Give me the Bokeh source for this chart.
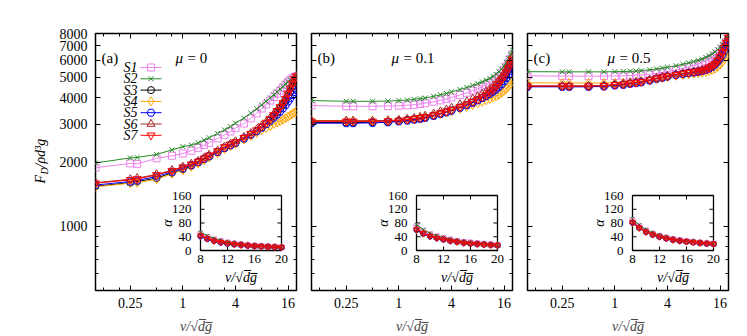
from bokeh.plotting import figure
from bokeh.layouts import row
from bokeh.models import Range1d, LinearScale, LogAxis, FixedTicker, CustomJSTickFormatter
from bokeh.core.properties import value
from bokeh.embed import file_html
from bokeh.resources import INLINE
import math

# ---------------- data ----------------
V = [0.1, 0.25, 0.3, 0.5, 0.75, 1, 1.25, 1.5, 1.75, 2, 2.5, 3, 3.5, 4, 5, 6, 7, 8, 9, 10,
     11, 12, 13, 14, 15, 16, 17, 18, 19, 20]
V_INSET = [8, 9, 10, 11, 12, 13, 14, 15, 16, 17, 18, 19, 20]

SERIES = ["S1", "S2", "S3", "S4", "S5", "S6", "S7"]
TAGS = ["(a)", "(b)", "(c)"]
MU_VALUES = ["= 0", "= 0.1", "= 0.5"]

X_TICKS = [0.25, 1, 4, 16]
X_MINOR = [0.125, 0.1875, 0.5, 0.75, 2, 3, 8, 12]
Y_TICKS = [1000, 2000, 3000, 4000, 5000, 6000, 7000, 8000]
Y_MINOR = [600, 700, 800, 900]
INS_XTICKS = [8, 12, 16, 20]
INS_YTICKS = [0, 40, 80, 120, 160]

# panel (a) mu = 0
A_S1 = [1880, 1970, 1960, 2080, 2140, 2190, 2260, 2330, 2400, 2460, 2580, 2680, 2780, 2880, 3030, 3200, 3380, 3560, 3720, 3880, 4030, 4180, 4330, 4470, 4610, 4740, 4850, 4930, 5000, 5050]
A_S2 = [1980, 2090, 2100, 2170, 2280, 2360, 2400, 2460, 2530, 2600, 2720, 2830, 2930, 3040, 3210, 3390, 3550, 3700, 3850, 4000, 4130, 4260, 4390, 4520, 4650, 4760, 4860, 4940, 5000, 5060]
A_S3 = [1540, 1600, 1620, 1680, 1780, 1850, 1920, 1990, 2060, 2120, 2220, 2320, 2390, 2450, 2570, 2680, 2780, 2900, 3010, 3150, 3280, 3410, 3550, 3700, 3870, 4070, 4290, 4510, 4710, 4880]
A_S4 = [1530, 1590, 1600, 1660, 1760, 1830, 1900, 1970, 2040, 2100, 2200, 2300, 2370, 2430, 2550, 2650, 2740, 2820, 2890, 2950, 3010, 3060, 3110, 3160, 3210, 3260, 3310, 3360, 3410, 3460]
A_S5 = [1560, 1620, 1640, 1710, 1800, 1870, 1935, 2000, 2070, 2130, 2230, 2330, 2400, 2460, 2580, 2690, 2790, 2900, 3010, 3120, 3230, 3340, 3450, 3570, 3700, 3840, 3980, 4120, 4250, 4360]
A_S6 = [1600, 1660, 1680, 1750, 1830, 1900, 1960, 2020, 2090, 2160, 2260, 2360, 2430, 2500, 2620, 2730, 2840, 2960, 3080, 3220, 3360, 3500, 3650, 3820, 4000, 4210, 4440, 4680, 4900, 5060]
A_S7 = [1590, 1650, 1665, 1740, 1820, 1890, 1950, 2010, 2080, 2150, 2250, 2350, 2420, 2480, 2600, 2710, 2820, 2940, 3060, 3190, 3330, 3470, 3620, 3780, 3960, 4180, 4420, 4670, 4890, 5050]

# panel (b) mu = 0.1
B_S1 = [3680, 3650, 3650, 3650, 3660, 3670, 3690, 3710, 3740, 3770, 3830, 3890, 3950, 4010, 4120, 4220, 4320, 4410, 4500, 4590, 4690, 4800, 4920, 5060, 5220, 5400, 5610, 5850, 6100, 6400]
B_S2 = [3880, 3850, 3850, 3850, 3860, 3880, 3900, 3930, 3960, 3990, 4060, 4130, 4190, 4260, 4370, 4470, 4570, 4660, 4750, 4840, 4930, 5030, 5150, 5290, 5450, 5640, 5860, 6110, 6390, 6700]
B_S3 = [3060, 3060, 3060, 3070, 3080, 3110, 3140, 3170, 3200, 3230, 3300, 3370, 3430, 3490, 3600, 3700, 3800, 3900, 4000, 4100, 4200, 4320, 4450, 4600, 4770, 4960, 5170, 5400, 5650, 5920]
B_S4 = [3130, 3120, 3120, 3120, 3130, 3140, 3160, 3180, 3210, 3240, 3300, 3360, 3410, 3460, 3550, 3630, 3700, 3770, 3830, 3890, 3950, 4010, 4070, 4130, 4210, 4300, 4400, 4510, 4640, 4800]
B_S5 = [3040, 3040, 3040, 3050, 3070, 3100, 3130, 3160, 3190, 3220, 3290, 3360, 3420, 3480, 3590, 3690, 3790, 3890, 3990, 4080, 4170, 4270, 4380, 4500, 4630, 4780, 4950, 5130, 5330, 5550]
B_S6 = [3120, 3120, 3120, 3120, 3130, 3150, 3180, 3210, 3250, 3290, 3370, 3450, 3520, 3590, 3720, 3840, 3950, 4060, 4170, 4280, 4400, 4530, 4670, 4830, 5010, 5210, 5420, 5650, 5900, 6200]
B_S7 = [3100, 3100, 3100, 3100, 3110, 3130, 3160, 3190, 3220, 3250, 3320, 3390, 3450, 3510, 3620, 3730, 3830, 3930, 4030, 4130, 4240, 4360, 4500, 4660, 4840, 5040, 5260, 5500, 5760, 6050]

# panel (c) mu = 0.5
C_S1 = [5070, 5050, 5050, 5050, 5050, 5060, 5070, 5080, 5100, 5120, 5160, 5210, 5260, 5310, 5400, 5490, 5580, 5670, 5760, 5850, 5940, 6040, 6150, 6280, 6430, 6600, 6800, 7030, 7300, 7600]
C_S2 = [5300, 5290, 5290, 5290, 5290, 5300, 5310, 5320, 5340, 5360, 5410, 5460, 5510, 5560, 5650, 5740, 5830, 5910, 5990, 6070, 6180, 6300, 6420, 6560, 6720, 6900, 7100, 7330, 7600, 7900]
C_S3 = [4520, 4520, 4520, 4520, 4540, 4590, 4620, 4670, 4700, 4740, 4830, 4920, 4980, 5040, 5120, 5180, 5230, 5270, 5310, 5360, 5420, 5510, 5620, 5770, 5960, 6200, 6490, 6830, 7200, 7600]
C_S4 = [4700, 4690, 4690, 4690, 4690, 4700, 4710, 4730, 4750, 4780, 4840, 4900, 4950, 5000, 5070, 5120, 5160, 5190, 5220, 5250, 5290, 5340, 5400, 5480, 5580, 5710, 5870, 6060, 6280, 6550]
C_S5 = [4500, 4500, 4500, 4500, 4520, 4570, 4600, 4650, 4690, 4730, 4820, 4910, 4970, 5030, 5110, 5170, 5220, 5260, 5300, 5350, 5400, 5480, 5580, 5720, 5890, 6110, 6370, 6670, 7000, 7350]
C_S6 = [4550, 4550, 4550, 4550, 4570, 4620, 4650, 4700, 4730, 4770, 4860, 4950, 5010, 5070, 5150, 5210, 5260, 5300, 5340, 5400, 5460, 5550, 5670, 5820, 6020, 6270, 6570, 6920, 7300, 7700]
C_S7 = [4530, 4530, 4530, 4530, 4550, 4600, 4630, 4680, 4710, 4750, 4840, 4930, 4990, 5050, 5130, 5190, 5240, 5280, 5320, 5370, 5430, 5520, 5630, 5780, 5980, 6230, 6530, 6880, 7250, 7650]

# insets: alpha vs v/sqrt(dg)
IA_S1 = [48, 39, 32, 27, 23, 20, 18, 16, 14, 13, 12, 11, 10]
IA_S2 = [53, 43, 35, 29, 25, 22, 19, 17, 15, 14, 13, 12, 11]
IA_S3 = [42, 34, 28, 24, 20, 18, 16, 14, 13, 12, 11, 10, 9]
IA_S4 = [41, 33, 27, 23, 20, 17, 15, 14, 12, 11, 10, 10, 9]
IA_S5 = [40, 32, 27, 22, 19, 17, 15, 13, 12, 11, 10, 9, 8]
IA_S6 = [44, 35, 29, 25, 21, 19, 17, 15, 13, 12, 11, 10, 10]
IA_S7 = [43, 35, 28, 24, 21, 18, 16, 14, 13, 12, 11, 10, 9]

IB_S1 = [70, 57, 47, 41, 36, 32, 28, 25, 23, 21, 19, 18, 16]
IB_S2 = [76, 61, 50, 43, 38, 33, 29, 26, 24, 22, 20, 18, 17]
IB_S3 = [60, 49, 41, 36, 32, 28, 25, 22, 20, 19, 17, 16, 15]
IB_S4 = [58, 47, 40, 35, 31, 27, 24, 22, 20, 18, 17, 15, 14]
IB_S5 = [59, 48, 40, 35, 31, 27, 24, 22, 20, 18, 17, 16, 14]
IB_S6 = [63, 51, 43, 37, 33, 29, 26, 23, 21, 19, 18, 16, 15]
IB_S7 = [61, 50, 42, 36, 32, 28, 25, 22, 20, 19, 17, 16, 15]

IC_S1 = [88, 71, 58, 49, 42, 37, 33, 30, 27, 25, 23, 21, 20]
IC_S2 = [93, 74, 61, 51, 44, 39, 34, 31, 28, 26, 24, 22, 21]
IC_S3 = [81, 66, 54, 46, 40, 35, 31, 28, 26, 24, 22, 20, 19]
IC_S4 = [79, 64, 53, 45, 39, 34, 30, 27, 25, 23, 21, 20, 18]
IC_S5 = [80, 65, 53, 45, 39, 34, 30, 27, 25, 23, 21, 19, 18]
IC_S6 = [83, 67, 55, 47, 41, 36, 32, 29, 26, 24, 22, 21, 19]
IC_S7 = [82, 66, 54, 46, 40, 35, 31, 28, 26, 24, 22, 20, 19]

MAIN = [[A_S1, A_S2, A_S3, A_S4, A_S5, A_S6, A_S7],
        [B_S1, B_S2, B_S3, B_S4, B_S5, B_S6, B_S7],
        [C_S1, C_S2, C_S3, C_S4, C_S5, C_S6, C_S7]]
INSET = [[IA_S1, IA_S2, IA_S3, IA_S4, IA_S5, IA_S6, IA_S7],
         [IB_S1, IB_S2, IB_S3, IB_S4, IB_S5, IB_S6, IB_S7],
         [IC_S1, IC_S2, IC_S3, IC_S4, IC_S5, IC_S6, IC_S7]]

# ---------------- style / layout ----------------
COLORS = ["#EE82EE", "#228B22", "#000000", "#FFA500", "#0000FF", "#A52A2A", "#FF0000"]
MARKERS = ["square", "x", "circle", "diamond", "hex", "triangle", "inverted_triangle"]
MSIZE = [7, 7, 7, 9, 8, 8, 8]
ISIZE = [5, 5, 5, 6, 5, 6, 6]

FONT = "Liberation Serif"
FW, FH = 201, 257
TOP_B, BOT_B = 33, 46
TOTAL_H = TOP_B + FH + BOT_B
LW = 50                      # width of the y-label strip
X_LIM = (0.1, 20)
Y_LIM = (500, 8000)
INS_XLIM = (8, 20)
INS_YLIM = (0, 160)
# inset box in pixels inside the frame (from left / from bottom)
IN_L, IN_R, IN_B, IN_T = 105, 186, 40, 95
XLABEL = "v/√d̅g̅"
YLAB_BOTTOM = 150            # start of the rotated y label, px from strip bottom


def style_axis(ax, labels, standoff=0):
    ax.axis_line_color = None
    ax.major_tick_in = 5
    ax.major_tick_out = 0
    ax.minor_tick_in = 3
    ax.minor_tick_out = 0
    ax.major_tick_line_color = "black"
    ax.minor_tick_line_color = "black"
    ax.major_label_text_font = FONT
    ax.major_label_text_font_size = "14px"
    ax.major_label_text_color = "black"
    ax.major_label_standoff = standoff
    if labels:
        ax.formatter = CustomJSTickFormatter(code="return String(tick);")
    else:
        ax.formatter = CustomJSTickFormatter(code="return '';")


def make_ylabel():
    q = figure(title=None, x_range=Range1d(0, LW), y_range=Range1d(0, TOTAL_H),
               frame_width=LW, frame_height=TOTAL_H,
               min_border_left=0, min_border_right=0, min_border_top=0, min_border_bottom=0,
               x_axis_location=None, y_axis_location=None,
               output_backend="svg", toolbar_location=None, tools="")
    q.grid.visible = False
    q.outline_line_color = None
    tf = value(FONT)
    yb = YLAB_BOTTOM + 36
    q.text(x=[40], y=[yb], text=["F"], angle=math.pi / 2, text_font=tf, text_font_size="14px",
           text_font_style="italic", text_align="left", text_baseline="middle", text_color="black")
    q.text(x=[44], y=[yb + 9], text=["D"], angle=math.pi / 2, text_font=tf, text_font_size="10px",
           text_font_style="italic", text_align="left", text_baseline="middle", text_color="black")
    q.text(x=[40], y=[yb + 16], text=["/ρd³g"], angle=math.pi / 2, text_font=tf,
           text_font_size="14px", text_font_style="italic", text_align="left",
           text_baseline="middle", text_color="black")
    return q


def make_panel(k):
    first = (k == 0)
    p = figure(title=None, x_axis_type="log", y_axis_type="log",
               x_range=Range1d(*X_LIM), y_range=Range1d(*Y_LIM),
               frame_width=FW, frame_height=FH,
               min_border_left=(95 - LW) if first else 7, min_border_right=8,
               min_border_top=TOP_B, min_border_bottom=BOT_B,
               output_backend="svg", toolbar_location=None, tools="")
    p.grid.visible = False
    p.outline_line_color = "black"
    p.outline_line_width = 1.5
    p.background_fill_color = "white"
    p.border_fill_color = "white"

    xt = FixedTicker(ticks=X_TICKS, minor_ticks=X_MINOR)
    yt = FixedTicker(ticks=Y_TICKS, minor_ticks=Y_MINOR)
    p.xaxis.ticker = xt
    p.yaxis.ticker = yt
    style_axis(p.xaxis[0], True, 7)
    style_axis(p.yaxis[0], first, 8 if first else 0)
    p.xaxis.axis_label = XLABEL
    p.xaxis.axis_label_text_font = FONT
    p.xaxis.axis_label_text_font_size = "14px"
    p.xaxis.axis_label_text_font_style = "italic"
    p.xaxis.axis_label_standoff = 8

    top = LogAxis(ticker=xt)
    style_axis(top, False)
    p.add_layout(top, "above")
    right = LogAxis(ticker=yt)
    style_axis(right, False)
    p.add_layout(right, "right")

    ux = (INS_XLIM[1] - INS_XLIM[0]) / (IN_R - IN_L)
    uy = (INS_YLIM[1] - INS_YLIM[0]) / (IN_T - IN_B)
    p.extra_x_ranges = {"ins": Range1d(INS_XLIM[0] - IN_L * ux, INS_XLIM[1] + (FW - IN_R) * ux),
                        "px": Range1d(0, FW)}
    p.extra_y_ranges = {"ins": Range1d(INS_YLIM[0] - IN_B * uy, INS_YLIM[1] + (FH - IN_T) * uy),
                        "px": Range1d(0, FH)}
    p.extra_x_scales = {"ins": LinearScale(), "px": LinearScale()}
    p.extra_y_scales = {"ins": LinearScale(), "px": LinearScale()}

    # main data
    for i in range(7):
        ys = MAIN[k][i]
        p.line(V, ys, line_color=COLORS[i], line_width=1)
        p.scatter(V, ys, marker=MARKERS[i], size=MSIZE[i], fill_color=None,
                  line_color=COLORS[i], line_width=1)

    px = dict(x_range_name="px", y_range_name="px")
    tfont = value(FONT)
    # panel tag and mu
    p.text(x=[6], y=[FH - 24], text=[TAGS[k]], text_font=tfont, text_font_size="15px",
           text_align="left", text_baseline="middle", text_color="black", **px)
    p.text(x=[80], y=[FH - 24], text=["μ"], text_font=tfont, text_font_size="15px",
           text_font_style="italic", text_align="left", text_baseline="middle",
           text_color="black", **px)
    p.text(x=[92], y=[FH - 24], text=[MU_VALUES[k]], text_font=tfont, text_font_size="15px",
           text_align="left", text_baseline="middle", text_color="black", **px)

    # legend (panel a)
    if first:
        ly = [FH - 34 - i * 11.3 for i in range(7)]
        p.text(x=[42] * 7, y=ly, text=SERIES, text_font=tfont, text_font_size="14px",
               text_font_style="italic", text_align="right", text_baseline="middle",
               text_color="black", **px)
        for i in range(7):
            p.line([45, 66], [ly[i], ly[i]], line_color=COLORS[i], line_width=1, **px)
            p.scatter([55.5], [ly[i]], marker=MARKERS[i], size=MSIZE[i], fill_color=None,
                      line_color=COLORS[i], line_width=1, **px)

    # inset
    ins = dict(x_range_name="ins", y_range_name="ins")
    p.quad(left=[INS_XLIM[0]], right=[INS_XLIM[1]], bottom=[INS_YLIM[0]], top=[INS_YLIM[1]],
           fill_color="white", line_color="black", line_width=1.3, **ins)
    tx = 4 * ux
    ty = 4 * uy
    ixt = INS_XTICKS[1:-1]
    iyt = INS_YTICKS[1:-1]
    p.segment(x0=ixt, y0=[INS_YLIM[0]] * len(ixt), x1=ixt, y1=[INS_YLIM[0] + ty] * len(ixt),
              line_color="black", line_width=1, **ins)
    p.segment(x0=ixt, y0=[INS_YLIM[1]] * len(ixt), x1=ixt, y1=[INS_YLIM[1] - ty] * len(ixt),
              line_color="black", line_width=1, **ins)
    p.segment(x0=[INS_XLIM[0]] * len(iyt), y0=iyt, x1=[INS_XLIM[0] + tx] * len(iyt), y1=iyt,
              line_color="black", line_width=1, **ins)
    p.segment(x0=[INS_XLIM[1]] * len(iyt), y0=iyt, x1=[INS_XLIM[1] - tx] * len(iyt), y1=iyt,
              line_color="black", line_width=1, **ins)
    for i in range(7):
        ys = INSET[k][i]
        p.line(V_INSET, ys, line_color=COLORS[i], line_width=1, **ins)
        p.scatter(V_INSET, ys, marker=MARKERS[i], size=ISIZE[i], fill_color=None,
                  line_color=COLORS[i], line_width=1, **ins)
    p.text(x=INS_XTICKS, y=[INS_YLIM[0]] * len(INS_XTICKS), text=[str(t) for t in INS_XTICKS],
           text_font=tfont, text_font_size="13px", text_align="center", text_baseline="top",
           y_offset=4, text_color="black", **ins)
    p.text(x=[INS_XLIM[0]] * len(INS_YTICKS), y=INS_YTICKS, text=[str(t) for t in INS_YTICKS],
           text_font=tfont, text_font_size="13px", text_align="right", text_baseline="middle",
           x_offset=-9, text_color="black", **ins)
    p.text(x=[INS_XLIM[0]], y=[sum(INS_YLIM) / 2], text=["α"], angle=math.pi / 2,
           text_font=tfont, text_font_size="14px", text_font_style="italic",
           text_align="center", text_baseline="middle", x_offset=-33, text_color="black", **ins)
    p.text(x=[sum(INS_XLIM) / 2], y=[INS_YLIM[0]], text=[XLABEL], text_font=tfont,
           text_font_size="14px", text_font_style="italic", text_align="center",
           text_baseline="top", y_offset=19, text_color="black", **ins)
    return p


panels = [make_panel(k) for k in range(3)]
layout = row(make_ylabel(), *panels, spacing=0)
open("out.html", "w").write(file_html(layout, INLINE))
